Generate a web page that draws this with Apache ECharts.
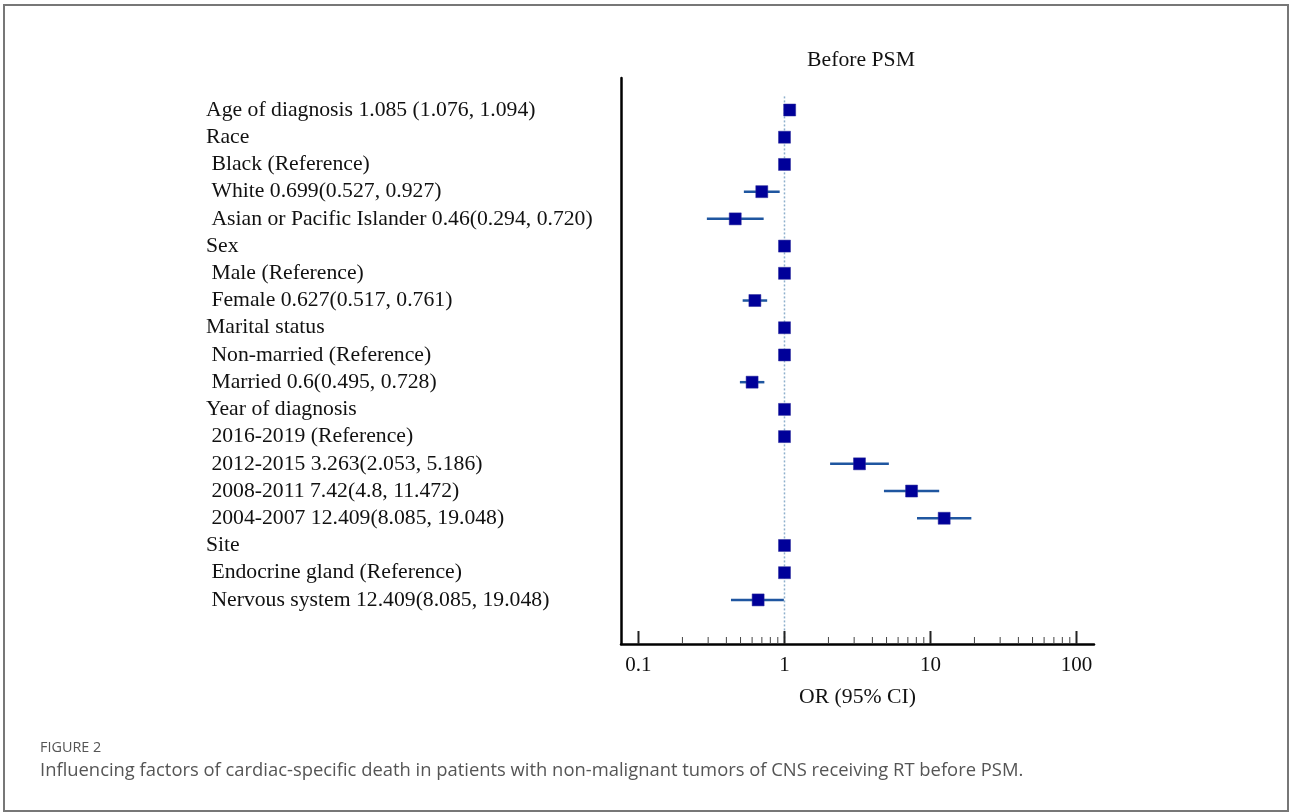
<!DOCTYPE html>
<html>
<head>
<meta charset="utf-8">
<script src="https://cdn.jsdelivr.net/npm/echarts@6/dist/echarts.min.js"></script>
<style>
  html, body { margin: 0; padding: 0; background: #fff; }
  #main { width: 1290px; height: 812px; }
</style>
</head>
<body>
<div id="main"></div>
<script>
// rows of the forest plot, top to bottom
const rowLabels = [
  'Age of diagnosis 1.085 (1.076, 1.094)',
  'Race',
  ' Black (Reference)',
  ' White 0.699(0.527, 0.927)',
  ' Asian or Pacific Islander 0.46(0.294, 0.720)',
  'Sex',
  ' Male (Reference)',
  ' Female 0.627(0.517, 0.761)',
  'Marital status',
  ' Non-married (Reference)',
  ' Married 0.6(0.495, 0.728)',
  'Year of diagnosis',
  ' 2016-2019 (Reference)',
  ' 2012-2015 3.263(2.053, 5.186)',
  ' 2008-2011 7.42(4.8, 11.472)',
  ' 2004-2007 12.409(8.085, 19.048)',
  'Site',
  ' Endocrine gland (Reference)',
  ' Nervous system 12.409(8.085, 19.048)'
];
const orValues = [1.085, 1, 1, 0.699, 0.46, 1, 1, 0.627, 1, 1, 0.6, 1, 1, 3.263, 7.42, 12.409, 1, 1, 0.66];
const ciLower  = [1.076, null, null, 0.527, 0.294, null, null, 0.517, null, null, 0.495, null, null, 2.053, 4.8, 8.085, null, null, 0.43];
const ciUpper  = [1.094, null, null, 0.927, 0.720, null, null, 0.761, null, null, 0.728, null, null, 5.186, 11.472, 19.048, null, null, 0.99];

// x axis ticks (log scale)
const majorTicks = [0.1, 1, 10, 100];
const majorLabels = ['0.1', '1', '10', '100'];
const minorTicks = [0.2, 0.3, 0.4, 0.5, 0.6, 0.7, 0.8, 0.9, 2, 3, 4, 5, 6, 7, 8, 9, 20, 30, 40, 50, 60, 70, 80, 90];
const refValue = 1;

const serif = '"Liberation Serif", "Times New Roman", serif';
const yMin = -1.176, yMax = 19.62;

const chart = echarts.init(document.getElementById('main'));

const option = {
  animation: false,
  backgroundColor: '#fff',
  grid: { left: 621, right: 196, top: 78, bottom: 168 },
  xAxis: {
    type: 'log',
    logBase: 10,
    min: 0.0759,
    max: 131.8,
    axisLine: { show: true, onZero: false, lineStyle: { color: '#000', width: 2.5 } },
    axisTick: { show: false },
    axisLabel: { show: false },
    splitLine: { show: false },
    name: 'OR (95% CI)',
    nameLocation: 'middle',
    nameGap: 42,
    nameTextStyle: { fontFamily: serif, fontSize: 21.7, color: '#111' }
  },
  yAxis: {
    type: 'value',
    inverse: true,
    min: yMin,
    max: yMax,
    axisLine: { show: true, onZero: false, lineStyle: { color: '#000', width: 2.5 } },
    axisTick: { show: false },
    axisLabel: { show: false },
    splitLine: { show: false }
  },
  graphic: [
    { type: 'rect', shape: { x: 4, y: 5, width: 1284, height: 806 },
      style: { fill: 'none', stroke: '#777', lineWidth: 2 }, silent: true },
    { type: 'text', x: 861, y: 60,
      style: { text: 'Before PSM', fontFamily: serif, fontSize: 21.7, fill: '#111', textAlign: 'center', textVerticalAlign: 'middle' } },
    { type: 'text', x: 40, y: 748,
      style: { text: 'FIGURE 2', fontFamily: '"Open Sans", sans-serif', fontSize: 14.4, fill: '#555', textVerticalAlign: 'middle' } },
    { type: 'text', x: 40, y: 771,
      style: { text: 'Influencing factors of cardiac-specific death in patients with non-malignant tumors of CNS receiving RT before PSM.',
        fontFamily: '"Open Sans", sans-serif', fontSize: 18.4, fill: '#555', textVerticalAlign: 'middle' } }
  ],
  series: [
    // row labels at the left
    {
      type: 'custom',
      clip: false,
      data: rowLabels.map((t, i) => [refValue, i]),
      encode: { x: 0, y: 1 },
      renderItem: function (params, api) {
        const p = api.coord([api.value(0), api.value(1)]);
        return {
          type: 'text',
          x: 206, y: p[1],
          style: { text: rowLabels[params.dataIndex], fontFamily: serif, fontSize: 21.7, fill: '#111', textVerticalAlign: 'middle' }
        };
      }
    },
    // dotted reference line at OR = 1
    {
      type: 'custom',
      clip: false,
      data: [[refValue, 0]],
      encode: { x: 0, y: 1 },
      renderItem: function (params, api) {
        const a = api.coord([api.value(0), -0.5]);
        const b = api.coord([api.value(0), yMax]);
        return {
          type: 'line',
          shape: { x1: a[0], y1: a[1], x2: b[0], y2: b[1] },
          style: { stroke: '#8fb0cc', lineWidth: 1.5, lineDash: [2, 2] }
        };
      }
    },
    // major ticks with labels
    {
      type: 'custom',
      clip: false,
      data: majorTicks.map(v => [v, yMax]),
      encode: { x: 0, y: 1 },
      renderItem: function (params, api) {
        const p = api.coord([api.value(0), api.value(1)]);
        return {
          type: 'group',
          children: [
            { type: 'line', shape: { x1: p[0], y1: p[1], x2: p[0], y2: p[1] - 13 },
              style: { stroke: '#222', lineWidth: 2 } },
            { type: 'text', x: p[0], y: p[1] + 21,
              style: { text: majorLabels[params.dataIndex], fontFamily: serif, fontSize: 21, fill: '#111',
                textAlign: 'center', textVerticalAlign: 'middle' } }
          ]
        };
      }
    },
    // minor ticks
    {
      type: 'custom',
      clip: false,
      data: minorTicks.map(v => [v, yMax]),
      encode: { x: 0, y: 1 },
      renderItem: function (params, api) {
        const p = api.coord([api.value(0), api.value(1)]);
        return {
          type: 'line',
          shape: { x1: p[0], y1: p[1], x2: p[0], y2: p[1] - 7 },
          style: { stroke: '#444', lineWidth: 1 }
        };
      }
    },
    // CI lines and squares
    {
      type: 'custom',
      clip: false,
      z: 5,
      data: orValues.map((v, i) => [v, i]),
      encode: { x: 0, y: 1 },
      renderItem: function (params, api) {
        const i = params.dataIndex;
        const p = api.coord([api.value(0), api.value(1)]);
        const children = [];
        if (ciLower[i] != null && ciUpper[i] != null) {
          const l = api.coord([ciLower[i], i]);
          const r = api.coord([ciUpper[i], i]);
          children.push({ type: 'line', shape: { x1: l[0], y1: l[1], x2: r[0], y2: r[1] },
            style: { stroke: '#1f56a0', lineWidth: 2.5 } });
        }
        const s = 12;
        children.push({ type: 'rect', shape: { x: p[0] - s / 2, y: p[1] - s / 2, width: s, height: s },
          style: { fill: '#000099', stroke: '#2a2a9a', lineWidth: 0.5 } });
        return { type: 'group', children: children };
      }
    }
  ]
};

chart.setOption(option);
</script>
</body>
</html>
